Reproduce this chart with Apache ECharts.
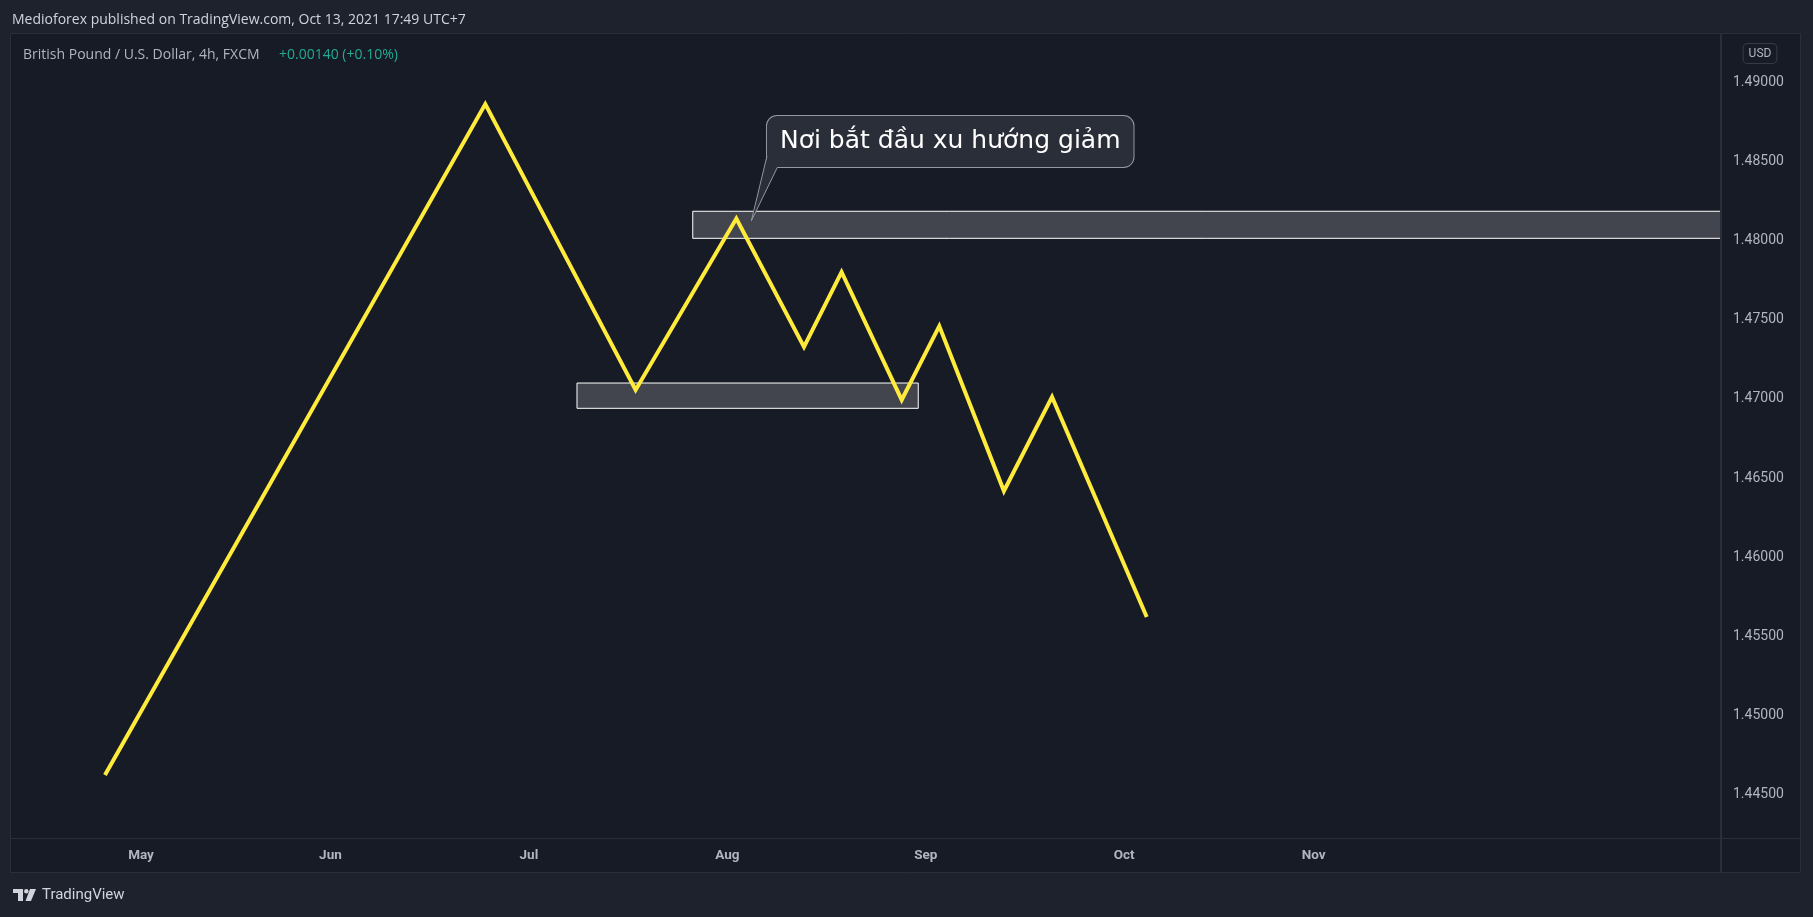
<!DOCTYPE html>
<html>
<head>
<meta charset="utf-8">
<script src="https://cdn.jsdelivr.net/npm/echarts@6/dist/echarts.min.js"></script>
<style>
html,body{margin:0;padding:0;background:#1e222d;}
#chart{width:1813px;height:917px;}
</style>
</head>
<body>
<div id="chart"></div>
<script>
// ---- data ----
const pointDates = ['2021-04-27 00:00','2021-06-24 04:00','2021-07-16 20:00','2021-08-03 00:00','2021-08-12 12:00','2021-08-18 16:00','2021-08-27 08:00','2021-09-02 12:00','2021-09-13 16:00','2021-09-21 00:00','2021-10-05 12:00'];
const pointPrices = [1.44622,1.48865,1.47057,1.48141,1.47329,1.47803,1.46994,1.47461,1.46418,1.47013,1.45621];
const monthNames = ['May','Jun','Jul','Aug','Sep','Oct','Nov'];
const monthStarts = ['2021-05-01','2021-06-01','2021-07-01','2021-08-01','2021-09-01','2021-10-01','2021-11-01'];
const priceTicks = [1.445,1.45,1.455,1.46,1.465,1.47,1.475,1.48,1.485,1.49];
const xRange = ['2021-04-12 14:00','2022-01-03 04:00'];
const yRange = [1.44224,1.49308];
const zoneStart = ['2021-07-27 04:00','2021-07-08 08:00'];
const zoneEnd = ['2022-01-10 00:00','2021-08-31 04:00'];
const zoneTop = [1.48187,1.47101];
const zoneBottom = [1.48016,1.46941];
const calloutText = 'Nơi bắt đầu xu hướng giảm';
const calloutAnchor = ['2021-08-04 16:00',1.48127];
const headerText = 'Medioforex published on TradingView.com, Oct 13, 2021 17:49 UTC+7';
const symbolText = 'British Pound / U.S. Dollar, 4h, FXCM';
const changeText = '+0.00140 (+0.10%)';

// trading-day index (weekdays since 2021-04-01) — TradingView time scale skips weekends
function tIdx(s){
  const parts = s.split(' ');
  const [Y,M,D] = parts[0].split('-').map(Number);
  const [h,m] = (parts[1]||'00:00').split(':').map(Number);
  let n = 0, cur = Date.UTC(2021,3,1);
  const end = Date.UTC(Y,M-1,D);
  while(cur < end){ const wd = new Date(cur).getUTCDay(); if(wd!==0 && wd!==6) n++; cur += 86400000; }
  return n + (h + m/60)/24;
}

const monthIdx = monthStarts.map(tIdx);
const lineData = pointDates.map((d,i)=>[tIdx(d), pointPrices[i]]);
const zones = zoneStart.map((s,i)=>[
  {coord:[tIdx(s), zoneTop[i]]},
  {coord:[tIdx(zoneEnd[i]), zoneBottom[i]]}
]);

const chart = echarts.init(document.getElementById('chart'), null, {renderer:'canvas'});
const labelFont = "Roboto, 'Liberation Sans', sans-serif";
const headFont = "'Open Sans', Roboto, sans-serif";

chart.setOption({
  backgroundColor:'#1e222d',
  animation:false,
  grid:{left:11,right:92,top:34,bottom:79,containLabel:false,outerBoundsMode:'none'},
  xAxis:{
    type:'value', min:tIdx(xRange[0]), max:tIdx(xRange[1]),
    axisLine:{show:false}, axisTick:{show:false}, splitLine:{show:false},
    axisLabel:{
      customValues: monthIdx, margin:11, color:'#b2b5be', fontSize:13.5, fontWeight:'bold', fontFamily:labelFont,
      formatter:function(v){ const i = monthIdx.findIndex(m=>Math.abs(m-v)<1e-6); return i>=0?monthNames[i]:''; }
    }
  },
  yAxis:{
    type:'value', position:'right', min:yRange[0], max:yRange[1], scale:true,
    axisLine:{show:false}, axisTick:{show:false}, splitLine:{show:false},
    axisLabel:{
      customValues: priceTicks, margin:12, color:'#b2b5be', fontSize:14, fontFamily:labelFont,
      formatter:function(v){ return v.toFixed(5); }
    }
  },
  graphic:[
    {type:'rect', z:-10, silent:true, shape:{x:10.5,y:33.5,width:1790,height:839}, style:{fill:'#171b25',stroke:'#2a2e39',lineWidth:1}},
    {type:'line', z:100, silent:true, shape:{x1:1721,y1:34,x2:1721,y2:872}, style:{stroke:'#2a2e39',lineWidth:2}},
    {type:'line', z:-9, silent:true, shape:{x1:10.5,y1:838.5,x2:1800.5,y2:838.5}, style:{stroke:'#2a2e39',lineWidth:1}},
    {type:'text', silent:true, style:{x:12,y:20,text:headerText,fill:'#d1d4dc',font:"14px "+headFont,textVerticalAlign:'middle'}},
    {type:'text', silent:true, style:{x:23,y:55,text:symbolText,fill:'#b2b5be',font:"14px "+headFont,textVerticalAlign:'middle'}},
    {type:'text', silent:true, style:{x:279,y:55,text:changeText,fill:'#22ab94',font:"14px "+headFont,textVerticalAlign:'middle'}},
    {type:'text', silent:true, style:{x:1760,y:53.5,text:'USD',fill:'#b2b5be',font:"12px "+labelFont,textAlign:'center',textVerticalAlign:'middle',
      backgroundColor:'#171b25',borderColor:'#363a45',borderWidth:1,borderRadius:4,padding:[4,5,3,5]}},
    // TradingView logo
    {type:'rect', silent:true, shape:{x:13,y:889,width:10,height:4}, style:{fill:'#d1d4dc'}},
    {type:'rect', silent:true, shape:{x:18,y:889,width:5,height:12}, style:{fill:'#d1d4dc'}},
    {type:'circle', silent:true, shape:{cx:26.3,cy:891.2,r:2.2}, style:{fill:'#d1d4dc'}},
    {type:'polygon', silent:true, shape:{points:[[30,889],[36,889],[31,901],[25.5,901]]}, style:{fill:'#d1d4dc'}},
    {type:'text', silent:true, style:{x:42,y:895,text:'TradingView',fill:'#d1d4dc',font:"15px "+labelFont,textVerticalAlign:'middle'}}
  ],
  series:[{
    type:'line', data:lineData, symbol:'none', z:5, clip:true,
    lineStyle:{color:'#ffeb3b',width:4,join:'miter'},
    markArea:{silent:true, itemStyle:{color:'#42454e',borderColor:'#ffffff',borderWidth:1}, data:zones}
  }]
});

// callout anchored to a chart coordinate
const tip = chart.convertToPixel({gridIndex:0},[tIdx(calloutAnchor[0]),calloutAnchor[1]]);
const boxX = tip[0]+15.6, boxY = tip[1]-104.7;
chart.setOption({graphic:[
  {type:'text', id:'callout', z:20, silent:true, style:{x:boxX,y:boxY,text:calloutText,fill:'#ffffff',
    font:"25px 'DejaVu Sans', 'Noto Sans', sans-serif",textAlign:'left',textVerticalAlign:'top',lineHeight:27,
    backgroundColor:'#2a2e39',borderColor:'#9598a1',borderWidth:1,borderRadius:10,padding:[12,13,12,13]}},
  {type:'polygon', id:'tailFill', z:21, silent:true, shape:{points:[[boxX+0.5,boxY+40],[tip[0],tip[1]],[boxX+10.4,boxY+51.3],[boxX+12,boxY+49]]}, style:{fill:'#2a2e39'}},
  {type:'polyline', id:'tailLine', z:22, silent:true, shape:{points:[[boxX,boxY+40],[tip[0],tip[1]],[boxX+10.4,boxY+51.3]]}, style:{stroke:'#9598a1',lineWidth:1,fill:null}}
]});
</script>
</body>
</html>
